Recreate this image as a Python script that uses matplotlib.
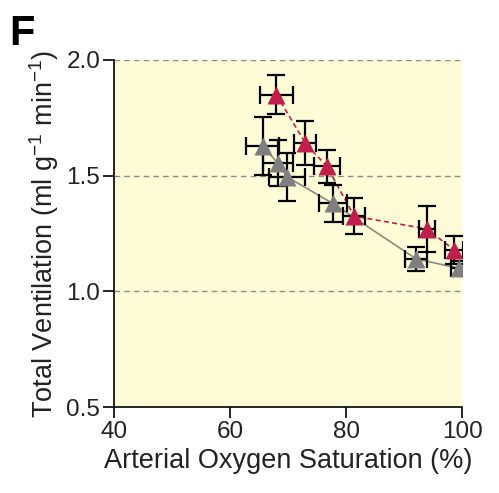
import numpy as np
import matplotlib.pyplot as plt

plt.rcParams['font.family'] = ['Liberation Sans', 'DejaVu Sans']
plt.rcParams['mathtext.fontset'] = 'custom'
plt.rcParams['mathtext.rm'] = 'Liberation Sans'
plt.rcParams['mathtext.default'] = 'rm'

# red series (dashed)
red_x = [68.0, 73.0, 76.7, 81.4, 93.9, 98.6]
red_y = [1.85, 1.64, 1.54, 1.325, 1.27, 1.18]
red_xerr = [2.9, 1.9, 2.2, 1.9, 1.4, 1.6]
red_yerr = [0.085, 0.096, 0.072, 0.078, 0.099, 0.061]

# grey series (solid)
grey_x = [65.6, 68.2, 69.8, 77.7, 92.1, 99.4]
grey_y = [1.63, 1.555, 1.495, 1.38, 1.14, 1.10]
grey_xerr = [2.9, 2.6, 3.1, 2.4, 1.9, 1.3]
grey_yerr = [0.125, 0.10, 0.105, 0.08, 0.052, 0.03]

xticks = [40, 60, 80, 100]
yticks = [0.5, 1.0, 1.5, 2.0]

red = '#c01f4b'
grey = '#7f7f7f'

fig = plt.figure(figsize=(4.99, 4.93), dpi=100)
ax = fig.add_axes([0.2285, 0.1744, 0.6975, 0.7039])
ax.set_facecolor('#fefcd6')

for y in [1.0, 1.5, 2.0]:
    ax.axhline(y, color='#8c8c8c', ls=(0, (4, 3)), lw=1.0, zorder=1)

ax.plot(grey_x, grey_y, color='#8a8a80', lw=1.2, zorder=2)
ax.plot(red_x, red_y, color=red, lw=1.2, ls=(0, (3, 2)), zorder=2)

ax.errorbar(grey_x, grey_y, xerr=grey_xerr, yerr=grey_yerr, fmt='none',
            ecolor='black', elinewidth=1.6, capsize=6.5, capthick=1.6, zorder=3)
ax.errorbar(red_x, red_y, xerr=red_xerr, yerr=red_yerr, fmt='none',
            ecolor='black', elinewidth=1.6, capsize=6.5, capthick=1.6, zorder=3)

ax.plot(grey_x, grey_y, '^', color=grey, ms=12.5, mec='none', zorder=4)
ax.plot(red_x, red_y, '^', color=red, ms=12.5, mec='none', zorder=4)

ax.set_xlim(40, 100)
ax.set_ylim(0.5, 2.0)
ax.set_xticks(xticks)
ax.set_yticks(yticks)
ax.set_yticklabels(['0.5', '1.0', '1.5', '2.0'])
ax.tick_params(direction='out', length=8, width=1.2, labelsize=17.5,
               color='black', labelcolor='#222222', pad=2)
for s in ['top', 'right']:
    ax.spines[s].set_visible(False)
for s in ['left', 'bottom']:
    ax.spines[s].set_linewidth(1.2)

ax.set_xlabel('Arterial Oxygen Saturation (%)', fontsize=19.5, labelpad=4, color='#222222')
ax.set_ylabel('Total Ventilation (ml g$^{-1}$ min$^{-1}$)', fontsize=19.5, labelpad=4,
              color='#222222')

fig.text(0.018, 0.972, 'F', fontsize=30, fontweight='bold', va='top')

fig.savefig('out.png', dpi=100)
